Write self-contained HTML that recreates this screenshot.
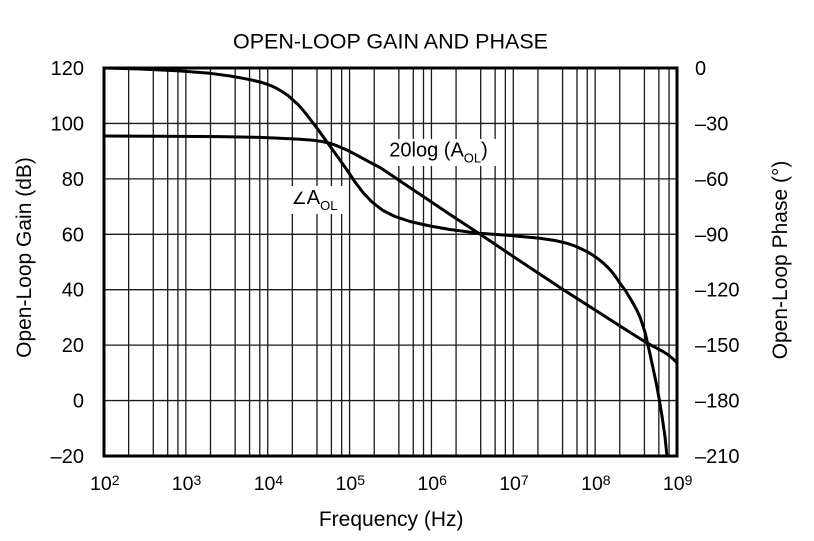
<!DOCTYPE html>
<html><head><meta charset="utf-8"><style>
html,body{margin:0;padding:0;background:#fff;}
svg{display:block;}
text{font-family:"Liberation Sans",Arial,sans-serif;fill:#000;}
</style></head><body>
<svg width="814" height="541" viewBox="0 0 814 541" xmlns="http://www.w3.org/2000/svg">
<rect x="0" y="0" width="814" height="541" fill="#fff"/>
<defs><clipPath id="pa"><rect x="104" y="68" width="573" height="388"/></clipPath></defs>
<g stroke="#1a1a1a" stroke-width="1.3" fill="none">
<path d="M128.64 68V456M153.28 68V456M167.70 68V456M177.93 68V456M185.86 68V456
M210.50 68V456M235.14 68V456M249.56 68V456M259.79 68V456M267.71 68V456
M292.35 68V456M316.99 68V456M331.41 68V456M341.64 68V456M349.57 68V456
M374.21 68V456M398.85 68V456M413.27 68V456M423.50 68V456M431.43 68V456
M456.07 68V456M480.71 68V456M495.13 68V456M505.36 68V456M513.29 68V456
M537.93 68V456M562.57 68V456M576.99 68V456M587.22 68V456M595.14 68V456
M619.78 68V456M644.42 68V456M658.84 68V456M669.07 68V456"/>
<path d="M104 123.43H677M104 178.86H677M104 234.29H677M104 289.71H677M104 345.14H677M104 400.57H677"/>
</g>
<!-- label backgrounds -->
<rect x="386" y="139" width="112" height="27" fill="#fff"/>
<rect x="289" y="186" width="55" height="28" fill="#fff"/>
<g clip-path="url(#pa)" fill="none" stroke="#000" stroke-width="3" stroke-linejoin="round" stroke-linecap="round">
<polyline points="104,136 160,136.2 220,136.6 260,137.4 280,138.3 300,139.2 313,140.2 322,141.5 330,143.3 338,146.2 347,150 358,155.8 370,162.3 380,167.5 392,175.5 403,183 415,191 430,201 450,214.5 479,233.5 520,261 563,289.5 605,316.4 630,332.4 647,343 656,347.8 663,351.5 668,354.8 672,358 675,360.8 677,363"/>
<polyline points="104,68 140,69 177,70.7 210,73.3 230,76 243,78.3 253,80.3 262,82.5 270,85.3 276,88 282,91.5 288,95.5 293,100 298,104.5 302,109 306,113.8 310,119 318,129.5 327,142 336,154.5 347,170 355,182 363,192.5 372,202 383,210.5 395,216.5 410,221.5 430,226 450,229.5 479,233.3 510,235.5 540,238.3 555,240.5 567,243.3 575,246 582,249.2 588,252.2 593,255.2 598,258.8 603,262.8 608,267.5 612,272 616,277.3 620,283.3 625,290 630,298 634,305 637,310.5 640,317 643,326 645.5,334 647.5,343 650,354 653,368 656,382 659,398 662,416 665,437 667,456 668,470"/>
</g>
<rect x="104" y="68" width="573" height="388" fill="none" stroke="#000" stroke-width="3"/>
<!-- title -->
<text x="390.5" y="48.3" font-size="21.5" text-anchor="middle">OPEN-LOOP GAIN AND PHASE</text>
<!-- left ticks -->
<g font-size="20" text-anchor="end">
<text x="84" y="75">120</text>
<text x="84" y="130.4">100</text>
<text x="84" y="185.9">80</text>
<text x="84" y="241.3">60</text>
<text x="84" y="296.7">40</text>
<text x="84" y="352.1">20</text>
<text x="84" y="407.6">0</text>
<text x="84" y="463">–20</text>
</g>
<!-- right ticks -->
<g font-size="20" text-anchor="start">
<text x="695" y="75">0</text>
<text x="695" y="130.4">–30</text>
<text x="695" y="185.9">–60</text>
<text x="695" y="241.3">–90</text>
<text x="695" y="296.7">–120</text>
<text x="695" y="352.1">–150</text>
<text x="695" y="407.6">–180</text>
<text x="695" y="463">–210</text>
</g>
<!-- bottom ticks -->
<g font-size="19.5">
<text x="111.7" y="490" text-anchor="end">10</text><text x="111.7" y="485" font-size="14">2</text>
<text x="193.5" y="490" text-anchor="end">10</text><text x="193.5" y="485" font-size="14">3</text>
<text x="275.4" y="490" text-anchor="end">10</text><text x="275.4" y="485" font-size="14">4</text>
<text x="357.2" y="490" text-anchor="end">10</text><text x="357.2" y="485" font-size="14">5</text>
<text x="439.1" y="490" text-anchor="end">10</text><text x="439.1" y="485" font-size="14">6</text>
<text x="520.9" y="490" text-anchor="end">10</text><text x="520.9" y="485" font-size="14">7</text>
<text x="602.8" y="490" text-anchor="end">10</text><text x="602.8" y="485" font-size="14">8</text>
<text x="684.6" y="490" text-anchor="end">10</text><text x="684.6" y="485" font-size="14">9</text>
</g>
<!-- axis titles -->
<text x="391.2" y="526" font-size="21" text-anchor="middle">Frequency (Hz)</text>
<text transform="translate(31,257.5) rotate(-90)" font-size="21" text-anchor="middle">Open-Loop Gain (dB)</text>
<text transform="translate(787,260) rotate(-90)" font-size="21" text-anchor="middle">Open-Loop Phase (°)</text>
<!-- curve labels -->
<text x="389.3" y="156.7" font-size="20">20log (A<tspan font-size="13" dy="6">OL</tspan><tspan dy="-6">)</tspan></text>
<text x="291.5" y="204" font-size="20"><tspan font-family="DejaVu Sans,sans-serif" font-size="17">∠</tspan>A<tspan font-size="13" dy="6">OL</tspan></text>
</svg>
</body></html>
